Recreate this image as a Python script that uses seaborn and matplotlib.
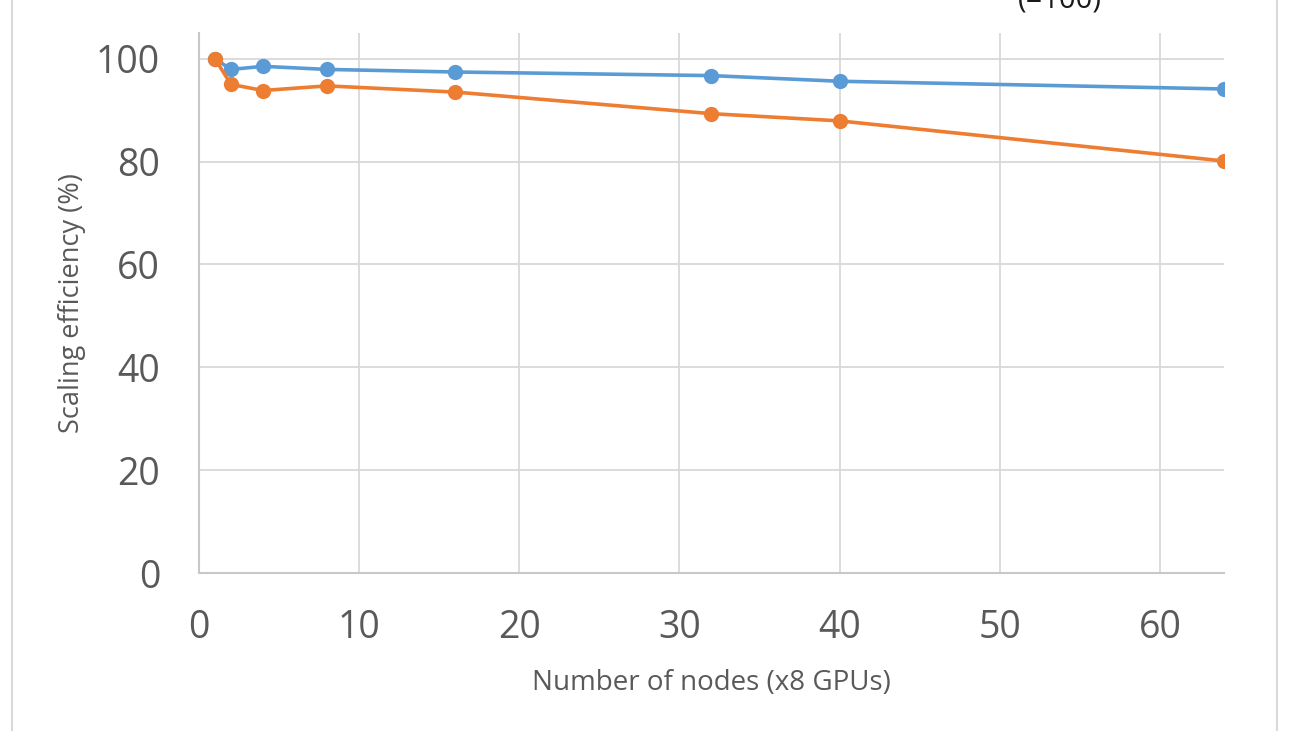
import matplotlib.pyplot as plt
import matplotlib.lines as mlines
import pandas as pd
import seaborn as sns

nodes = [1, 2, 4, 8, 16, 32, 40, 64]
eff_blue = [100.0, 97.9, 98.5, 97.9, 97.4, 96.7, 95.6, 94.1]
eff_orange = [100.0, 95.0, 93.8, 94.7, 93.5, 89.3, 87.9, 80.1]
series_names = ["series 1", "series 2"]
x_ticks = [0, 10, 20, 30, 40, 50, 60]
y_ticks = [0, 20, 40, 60, 80, 100]


def main():
    df = pd.DataFrame(
        {
            "nodes": nodes * 2,
            "efficiency": eff_blue + eff_orange,
            "series": [series_names[0]] * len(nodes) + [series_names[1]] * len(nodes),
        }
    )

    sns.set_style("white")
    plt.rcParams["font.family"] = ["Open Sans", "DejaVu Sans"]

    fig = plt.figure(figsize=(13, 7.31), dpi=100)
    ax = fig.add_axes([0.153, 0.216, 0.7885, 0.739])

    sns.lineplot(
        data=df,
        x="nodes",
        y="efficiency",
        hue="series",
        palette=["#5B9BD5", "#ED7D31"],
        marker="o",
        markersize=11,
        markeredgewidth=0,
        linewidth=2.6,
        legend=False,
        ax=ax,
    )

    ax.set_xlim(0, 64)
    ax.set_ylim(0, 105)
    ax.set_xticks(x_ticks)
    ax.set_yticks(y_ticks)
    ax.grid(True, color="#D9D9D9", linewidth=1.3)
    ax.set_axisbelow(True)

    for side in ["top", "right"]:
        ax.spines[side].set_visible(False)
    for side in ["left", "bottom"]:
        ax.spines[side].set_color("#C8C8C8")
        ax.spines[side].set_linewidth(1.5)

    ax.tick_params(axis="both", labelsize=27, labelcolor="#595959", length=0)
    ax.tick_params(axis="x", pad=26)
    ax.tick_params(axis="y", pad=28)

    ax.set_xlabel("Number of nodes (x8 GPUs)", fontsize=20, color="#595959", labelpad=16)
    ax.set_ylabel("Scaling efficiency (%)", fontsize=19.5, color="#595959", labelpad=7)

    # outer chart frame (left and right edges)
    for xf in [12 / 1300, 1277 / 1300]:
        fig.add_artist(
            mlines.Line2D([xf, xf], [-0.1, 1.1], color="#D9D9D9", linewidth=1.5)
        )

    # legend text cut off at the top, as in the source image
    fig.text(1060 / 1300, 1 - 14 / 731, "(=100)", fontsize=21, color="#1a1a1a",
             ha="center", va="bottom")

    fig.savefig("out.png", dpi=100)


if __name__ == "__main__":
    main()
